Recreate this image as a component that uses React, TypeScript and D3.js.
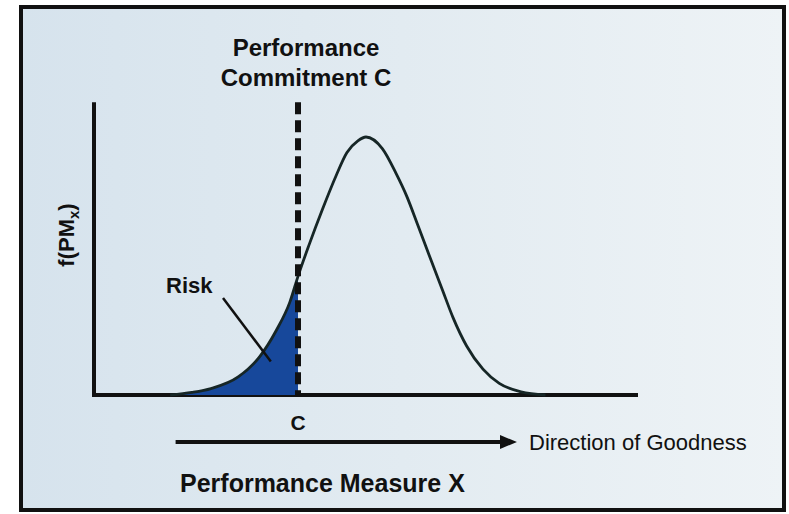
import React from "react";
import { scaleLinear, line, area, curveMonotoneX } from "d3";

// points (x in measure units, y as share of peak)
const curveX = [2.8, 3.6, 4.3, 5.3, 6.1, 6.7, 7.2, 7.5, 7.9, 8.4, 8.9, 9.3, 9.7, 10.0, 10.6, 11.1, 11.5, 11.9, 12.4, 12.8, 13.2, 13.7, 14.3, 14.9, 15.7, 16.6];
const curveY = [0.0, 0.01, 0.025, 0.07, 0.15, 0.25, 0.36, 0.46, 0.58, 0.72, 0.85, 0.94, 0.985, 1.0, 0.955, 0.86, 0.77, 0.66, 0.52, 0.41, 0.3, 0.19, 0.1, 0.045, 0.012, 0.0];
const commitment = 7.5;
const labels = {
  title: ["Performance", "Commitment C"],
  yLabel: "f(PM",
  ySub: "x",
  risk: "Risk",
  c: "C",
  direction: "Direction of Goodness",
  xLabel: "Performance Measure X"
};

const W = 789,
  H = 514;

export default function App() {
  const x = scaleLinear().domain([0, 20]).range([94, 638]);
  const y = scaleLinear().domain([0, 1]).range([395, 137]);

  const pts = curveX.map((d, i) => ({ x: d, y: curveY[i] }));
  const riskPts = pts.filter(d => d.x <= commitment);

  const curvePath = line<{ x: number; y: number }>()
    .x(d => x(d.x))
    .y(d => y(d.y))
    .curve(curveMonotoneX)(pts);

  const riskPath = area<{ x: number; y: number }>()
    .x(d => x(d.x))
    .y0(y(0))
    .y1(d => y(d.y))
    .curve(curveMonotoneX)(riskPts);

  const font = "'Liberation Sans', Arial, sans-serif";
  const yTop = y(1.135);
  const cx = x(commitment);

  return (
    <svg
      width={W}
      height={H}
      style={{ position: "absolute", left: 0, top: 0 }}
      fontFamily={font}
    >
      <defs>
        <linearGradient id="bg" x1="0" x2="1" y1="0" y2="0">
          <stop offset="0" stopColor="#d6e3ed" />
          <stop offset="0.5" stopColor="#e2ebf1" />
          <stop offset="1" stopColor="#eef3f6" />
        </linearGradient>
      </defs>
      <rect width={W} height={H} fill="#fff" />
      <rect x={21} y={7} width={763} height={503} fill="url(#bg)" stroke="#111" strokeWidth={4} />

      {/* axes */}
      <line x1={x(0)} x2={x(0)} y1={yTop} y2={y(0) + 2} stroke="#111" strokeWidth={4} />
      <line x1={x(0) - 2} x2={x(20)} y1={y(0)} y2={y(0)} stroke="#111" strokeWidth={4} />

      {/* risk area */}
      <path d={riskPath || ""} fill="#17489b" />
      <path d={curvePath || ""} fill="none" stroke="#162626" strokeWidth={2.8} />

      {/* commitment line */}
      <line
        x1={cx}
        x2={cx}
        y1={yTop}
        y2={y(0)}
        stroke="#111"
        strokeWidth={6}
        strokeDasharray="12 6"
      />

      <text x={cx + 8} y={56} textAnchor="middle" fontSize={24} fontWeight="bold" fill="#111">
        {labels.title[0]}
      </text>
      <text x={cx + 8} y={86} textAnchor="middle" fontSize={24} fontWeight="bold" fill="#111">
        {labels.title[1]}
      </text>

      <text
        transform={`translate(74, ${y(0.62)}) rotate(-90)`}
        textAnchor="middle"
        fontSize={22}
        fontWeight="bold"
        fill="#111"
      >
        {labels.yLabel}
        <tspan fontSize={15} dy={5}>{labels.ySub}</tspan>
        <tspan dy={-5}>)</tspan>
      </text>

      <text x={166} y={293} fontSize={22} fontWeight="bold" fill="#111">
        {labels.risk}
      </text>
      <line x1={223} y1={298} x2={x(6.5)} y2={y(0.13)} stroke="#111" strokeWidth={2.5} />

      <text x={cx} y={430} textAnchor="middle" fontSize={21} fontWeight="bold" fill="#111">
        {labels.c}
      </text>

      <line x1={x(3)} x2={x(15)} y1={442} y2={442} stroke="#111" strokeWidth={4} />
      <path d={`M${x(15) - 2},435 L${x(15.55)},442 L${x(15) - 2},449 Z`} fill="#111" />
      <text x={529} y={450} fontSize={22} fill="#111">
        {labels.direction}
      </text>

      <text x={180} y={492} fontSize={25} fontWeight="bold" fill="#111">
        {labels.xLabel}
      </text>
    </svg>
  );
}
